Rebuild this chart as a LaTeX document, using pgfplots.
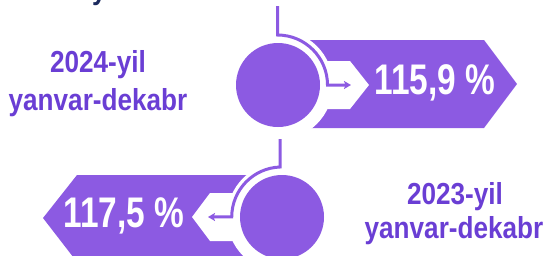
\documentclass[border=0pt]{standalone}
\usepackage{fontspec}
\setmainfont{Liberation Sans}[FakeStretch=0.86]
\newfontfamily\pctfont{Liberation Sans}[FakeStretch=0.78]
\usepackage{pgfplots}
\pgfplotsset{compat=1.18}
\usetikzlibrary{arrows.meta}
\definecolor{banner}{RGB}{140,90,226}
\definecolor{labelc}{RGB}{106,62,212}
\definecolor{navy}{RGB}{27,42,94}
\begin{document}
\begin{tikzpicture}
\begin{axis}[
  width=544bp, height=256bp, scale only axis, hide axis,
  xmin=0, xmax=544, ymin=0, ymax=256, y dir=reverse,
  clip=true,
]
% banners
\addplot[fill=banner, draw=none] coordinates {(300,40) (484,40) (517,84) (484,128) (300,128)} --cycle;
\addplot[fill=banner, draw=none] coordinates {(77,175) (262,175) (262,262) (77,262) (43,218)} --cycle;
% white halos
\fill[white] (axis cs:278,85) circle[radius=55bp];
\fill[white] (axis cs:282,217) circle[radius=55bp];
% white chevrons
\addplot[fill=white, draw=none] coordinates {(318,61) (350,61) (369,85) (350,109) (318,109)} --cycle;
\addplot[fill=white, draw=none] coordinates {(246,193) (210,193) (192,217) (210,241) (246,241)} --cycle;
% circles
\fill[banner] (axis cs:278,85) circle[radius=42bp];
\fill[banner] (axis cs:282,217) circle[radius=42bp];
% connectors
\draw[banner, line width=3bp, -{Stealth[length=7bp,width=8bp,inset=1.5bp]}]
  (axis cs:277.5,6) -- (axis cs:277.5,35) arc[start angle=90,end angle=0,radius=50bp] -- (axis cs:351,85);
\draw[banner, line width=3bp, -{Stealth[length=7bp,width=8bp,inset=1.5bp]}]
  (axis cs:280,139) -- (axis cs:280,167) arc[start angle=92,end angle=180,radius=50bp] -- (axis cs:208,217);
% values
\addplot[draw=none, mark=none, point meta=explicit,
  nodes near coords={\pctfont\bfseries\pgfmathprintnumber[use comma,fixed,fixed zerofill,precision=1,assume math mode=true]{\pgfplotspointmeta}~\%},
  nodes near coords align={center},
  every node near coord/.append style={text=white, font=\fontsize{43}{43}\selectfont, inner sep=0pt, anchor=center}]
  coordinates {(435,83) [115.9] (124,216) [117.5]};
% labels
\node[text=labelc, font=\fontsize{30.5}{36}\selectfont\bfseries, anchor=base, inner sep=0pt] at (axis cs:98,72) {2024-yil};
\node[text=labelc, font=\fontsize{30.5}{36}\selectfont\bfseries, anchor=base, inner sep=0pt] at (axis cs:98,110) {yanvar-dekabr};
\node[text=labelc, font=\fontsize{30.5}{36}\selectfont\bfseries, anchor=base, inner sep=0pt] at (axis cs:455,204) {2023-yil};
\node[text=labelc, font=\fontsize{30.5}{36}\selectfont\bfseries, anchor=base, inner sep=0pt] at (axis cs:454,238) {yanvar-dekabr};
\node[text=navy, font=\fontsize{30}{30}\selectfont\bfseries, anchor=base west, inner sep=0pt] at (axis cs:92,-1) {y};
\end{axis}
\pgfresetboundingbox
\path[use as bounding box] (current axis.south west) rectangle (current axis.north east);
\end{tikzpicture}
\end{document}
